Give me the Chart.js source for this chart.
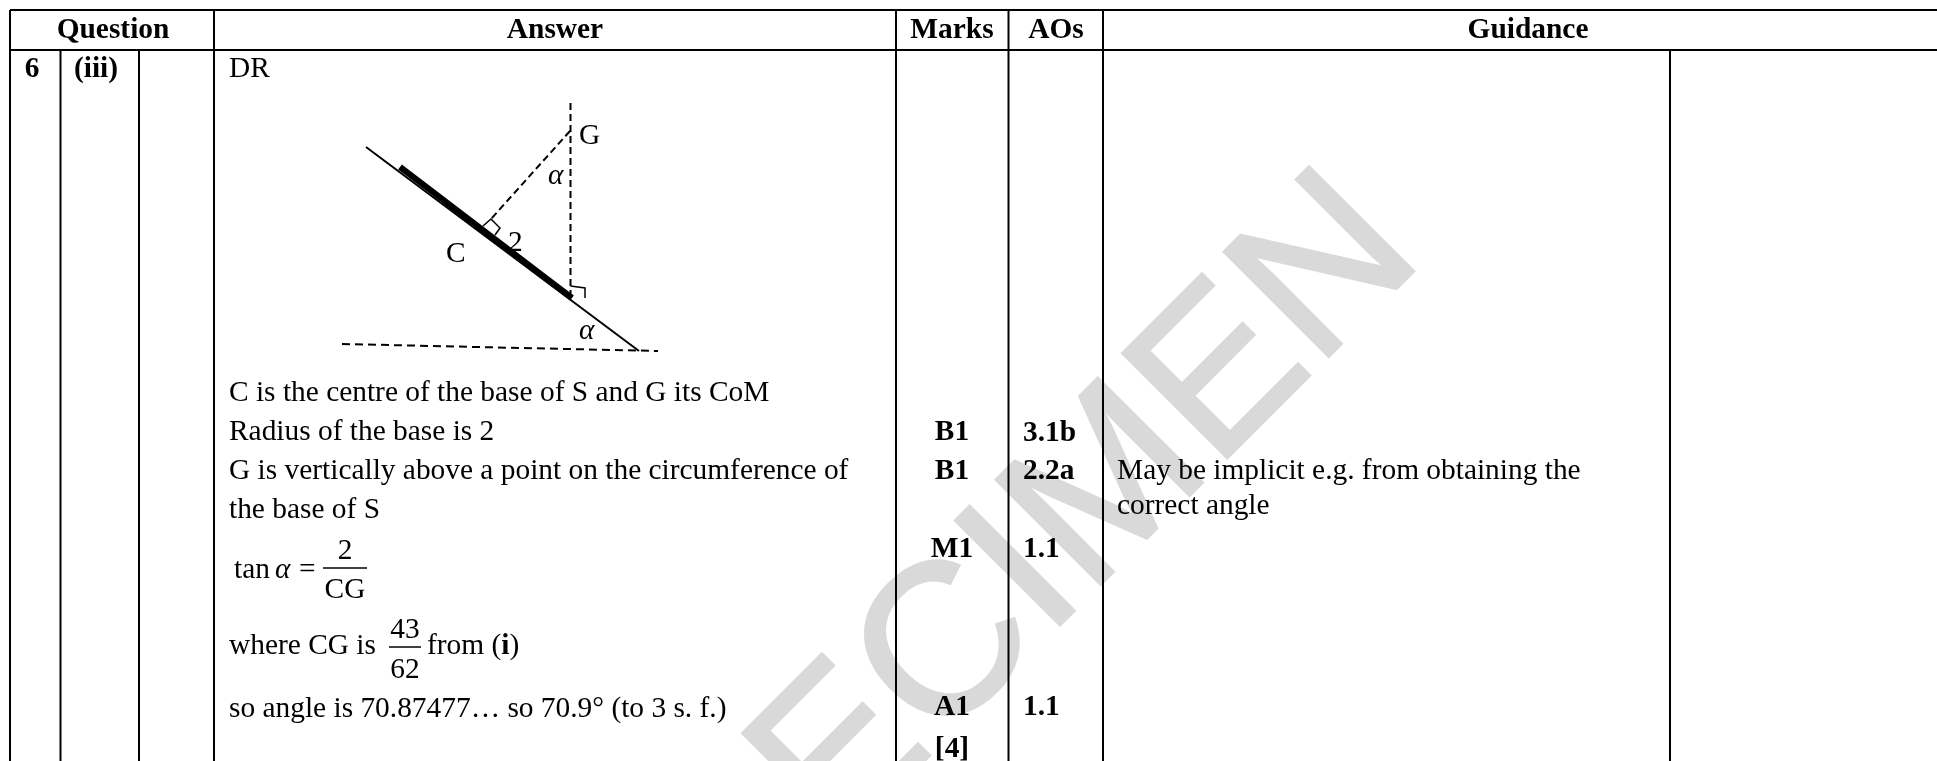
<!DOCTYPE html>
<html>
<head>
<meta charset="utf-8">
<title>Question 6 (iii) mark scheme</title>
<script src="https://cdn.jsdelivr.net/npm/chart.js@4"></script>
<style>
  html, body { margin: 0; padding: 0; background: #fff; overflow: hidden; }
  canvas { display: block; }
</style>
</head>
<body>
<canvas id="markScheme" width="1937" height="761"></canvas>
<script>
// Table text
const headers = ['Question', 'Answer', 'Marks', 'AOs', 'Guidance'];
const questionRef = ['6', '(iii)'];
const answerLines = [
    'DR',
    'C is the centre of the base of S and G its CoM',
    'Radius of the base is 2',
    'G is vertically above a point on the circumference of',
    'the base of S',
    'so angle is 70.87477\u2026 so 70.9\u00B0 (to 3 s. f.)'
];
const marks = ['B1', 'B1', 'M1', 'A1', '[4]'];
const aos = ['3.1b', '2.2a', '1.1', '1.1'];
const guidance = ['May be implicit e.g. from obtaining the', 'correct angle'];
const diagramLabels = ['G', 'C', '2'];

// Table rules in page units
const fullRules = [10, 214, 896, 1008.5, 1103];
const bodyRules = [60.5, 139, 1670];
const rowRules = [10, 50];
const tableBottom = 761;
const tableRight = 1937;

// Diagram lines
const slope = [[366, 147], [639, 351]];
const contactEdge = [[400, 167], [572, 298]];
const vertical = [[570.5, 103], [570.5, 297]];
const toCentre = [[570, 131], [491, 219]];
const ground = [[342, 344], [658, 351]];
const rightAngleTop = [[483, 226], [491, 219], [500, 228], [495, 235]];
const rightAngleBottom = [[570.5, 286], [585, 288], [585, 298]];
const fractionBars = [[[323, 568], [367, 568]], [[389, 647], [421, 647]]];

const pts = line => line.map(p => ({ x: p[0], y: p[1] }));

function lineSet(line, width, dash) {
    return {
        data: pts(line),
        showLine: true,
        borderColor: '#000',
        borderWidth: width,
        borderDash: dash || [],
        pointRadius: 0,
        tension: 0,
        borderCapStyle: 'butt',
        borderJoinStyle: 'miter'
    };
}

const datasets = [];
fullRules.forEach(x => datasets.push(lineSet([[x, rowRules[0]], [x, tableBottom]], 2)));
bodyRules.forEach(x => datasets.push(lineSet([[x, rowRules[1]], [x, tableBottom]], 2)));
rowRules.forEach(y => datasets.push(lineSet([[fullRules[0], y], [tableRight, y]], 2)));
datasets.push(lineSet(slope, 2));
datasets.push(lineSet(contactEdge, 6));
datasets.push(lineSet(vertical, 2, [7, 4]));
datasets.push(lineSet(toCentre, 2, [7, 4]));
datasets.push(lineSet(ground, 2, [8, 5]));
datasets.push(lineSet(rightAngleTop, 1.5));
datasets.push(lineSet(rightAngleBottom, 1.5));
fractionBars.forEach(bar => datasets.push(lineSet(bar, 1.5)));

const SERIF = '"Liberation Serif"';
const SIZE = 29.4;

const watermark = {
    id: 'watermark',
    beforeDatasetsDraw(chart) {
        const { ctx, scales: { x, y } } = chart;
        ctx.save();
        ctx.translate(x.getPixelForValue(1426), y.getPixelForValue(259));
        ctx.rotate(-Math.PI / 4);
        ctx.font = '215px "Liberation Sans"';
        ctx.fillStyle = '#d9d9d9';
        ctx.strokeStyle = '#d9d9d9';
        ctx.lineWidth = 3;
        ctx.textAlign = 'right';
        ctx.textBaseline = 'alphabetic';
        ctx.fillText('SPECIMEN', 0, 0);
        ctx.strokeText('SPECIMEN', 0, 0);
        ctx.restore();
    }
};

const tableText = {
    id: 'tableText',
    afterDatasetsDraw(chart) {
        const { ctx, scales: { x, y } } = chart;
        ctx.save();
        ctx.fillStyle = '#000';
        ctx.textBaseline = 'alphabetic';

        function put(str, px, py, style, align) {
            ctx.font = (style || '') + ' ' + SIZE + 'px ' + SERIF;
            ctx.textAlign = align || 'left';
            ctx.fillText(str, x.getPixelForValue(px), y.getPixelForValue(py));
            return px + ctx.measureText(str).width;
        }

        // header row
        [113, 555, 952, 1056, 1528].forEach((cx, i) => put(headers[i], cx, 38, 'bold', 'center'));

        // question reference
        put(questionRef[0], 32, 77, 'bold', 'center');
        put(questionRef[1], 96, 77, 'bold', 'center');

        // answer column
        [77, 401, 440, 479, 518, 717].forEach((by, i) => put(answerLines[i], 229, by));

        // tan a = 2 / CG
        put('tan', 234, 578);
        put('\u03B1', 275, 578, 'italic');
        put('=', 299, 578);
        put('2', 345, 559, '', 'center');
        put('CG', 345, 598, '', 'center');

        // where CG is 43/62 from (i)
        put('where CG is', 229, 654);
        put('43', 405, 638, '', 'center');
        put('62', 405, 678, '', 'center');
        let nx = put('from (', 427, 654);
        nx = put('i', nx, 654, 'bold');
        put(')', nx, 654);

        // marks and AOs
        [440, 479, 557, 715, 757].forEach((by, i) => put(marks[i], 952, by, 'bold', 'center'));
        [441, 479, 557, 715].forEach((by, i) => put(aos[i], 1023, by, 'bold'));

        // guidance
        put(guidance[0], 1117, 479);
        put(guidance[1], 1117, 514);

        // diagram labels
        put(diagramLabels[0], 579, 144);
        put(diagramLabels[1], 446, 262);
        put(diagramLabels[2], 508, 251);
        put('\u03B1', 548, 184, 'italic');
        put('\u03B1', 579, 339, 'italic');
        ctx.restore();
    }
};

new Chart(document.getElementById('markScheme').getContext('2d'), {
    type: 'scatter',
    data: { datasets },
    plugins: [watermark, tableText],
    options: {
        responsive: false,
        animation: false,
        layout: { padding: 0 },
        plugins: { legend: { display: false }, tooltip: { enabled: false }, title: { display: false } },
        events: [],
        scales: {
            x: { type: 'linear', min: 0, max: 1937, display: false },
            y: { type: 'linear', min: 0, max: 761, reverse: true, display: false }
        }
    }
});
</script>
</body>
</html>
